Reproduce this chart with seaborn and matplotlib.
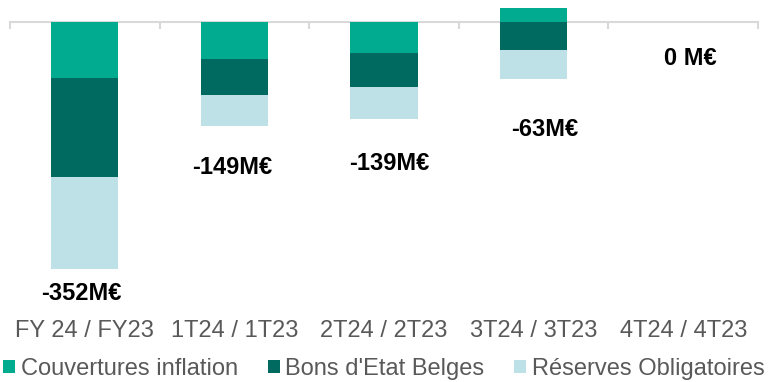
import matplotlib
matplotlib.use("Agg")
import matplotlib.pyplot as plt
from matplotlib.patches import Patch
import numpy as np
import seaborn as sns

# Variation by component, in M€
categories = ["FY 24 / FY23", "1T24 / 1T23", "2T24 / 2T23", "3T24 / 3T23", "4T24 / 4T23"]
couvertures_inflation = [-80, -53, -44, 19, 0]
bons_etat_belges = [-141, -51, -49, -40, 0]
reserves_obligatoires = [-131, -45, -46, -42, 0]
series_names = ["Couvertures inflation", "Bons d'Etat Belges", "Réserves Obligatoires"]
total_labels = ["-352M€", "-149M€", "-139M€", "-63M€", "0 M€"]

# styling
colors = ["#00AB8F", "#006A60", "#BDE1E6"]
label_offsets_px = [(-3, -31), (-2, -48), (5, -51), (11, -57), (7, -43)]
axis_gray = "#D9D9D9"
text_gray = "#595959"
fs = 17

sns.set_theme(style="white")
plt.rcParams["font.family"] = ["Liberation Sans", "DejaVu Sans"]

couv = np.array(couvertures_inflation, dtype=float)
bons = np.array(bons_etat_belges, dtype=float)
res = np.array(reserves_obligatoires, dtype=float)

# negative parts stack downward from zero; positive part sits above
neg_base = np.minimum(couv, 0)
bons_end = neg_base + bons
res_end = bons_end + res

fig = plt.figure(figsize=(7.68, 3.82), dpi=100)
px_per_unit = 0.7026
zero_px = 21.7
ax_h_px = 300
ax = fig.add_axes([10 / 768, 1 - ax_h_px / 382, 748 / 768, ax_h_px / 382])

for ends, col in zip([res_end, bons_end, couv], [colors[2], colors[1], colors[0]]):
    sns.barplot(x=categories, y=ends, order=categories, color=col, saturation=1,
                width=0.45, errorbar=None, linewidth=0, ax=ax)

ax.set_xlim(-0.5, len(categories) - 0.5)
ax.set_ylim(-(ax_h_px - zero_px) / px_per_unit, zero_px / px_per_unit)

for s in ["left", "right", "top"]:
    ax.spines[s].set_visible(False)
ax.spines["bottom"].set_position(("data", 0))
ax.spines["bottom"].set_color(axis_gray)
ax.spines["bottom"].set_linewidth(1.5)
ax.spines["bottom"].set_zorder(0.5)
ax.set_yticks([])
ax.set_ylabel("")

ax.set_xticks(range(len(categories)))
ax.set_xticklabels(categories)
ax.set_xticks(np.arange(-0.5, len(categories), 1.0), minor=True)
ax.tick_params(axis="x", which="major", bottom=True, length=0, pad=215,
               labelsize=fs, labelcolor=text_gray)
ax.tick_params(axis="x", which="minor", bottom=True, length=5, width=1.5,
               color=axis_gray, direction="out")

for i, lab in enumerate(total_labels):
    ax.annotate(lab, xy=(i, res_end[i]), xytext=label_offsets_px[i],
                textcoords="offset pixels", ha="center", va="baseline",
                fontsize=fs, fontweight="bold", color="black")

handles = [Patch(facecolor=c, edgecolor="none", label=n) for c, n in zip(colors, series_names)]
fig.legend(handles=handles, loc="center", bbox_to_anchor=(0.5, 1 - 369 / 382), ncol=3,
           frameon=False, fontsize=fs, labelcolor=text_gray, handlelength=0.5,
           handleheight=0.5, handletextpad=0.25, columnspacing=1.25,
           borderaxespad=0, borderpad=0)

fig.savefig("out.png", dpi=100)
